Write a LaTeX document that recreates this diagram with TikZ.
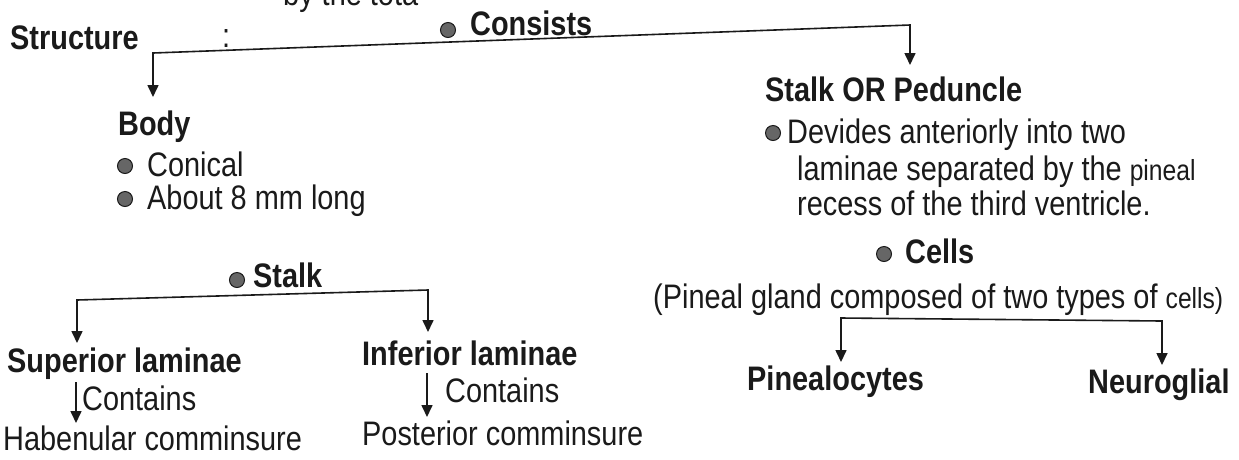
\documentclass[tikz,border=0pt]{standalone}
\usepackage{fontspec}
\setmainfont{Liberation Sans}[FakeStretch=0.85]
\usetikzlibrary{arrows.meta}
\definecolor{ink}{HTML}{1A1A1A}
\definecolor{bulletgray}{HTML}{666666}
\tikzset{
  txt/.style={anchor=base west, inner sep=0pt, text=ink, font=\fontsize{34}{40}\selectfont},
  btxt/.style={anchor=base west, inner sep=0pt, text=ink, font=\fontsize{34}{40}\selectfont\bfseries},
  bul/.style={circle, fill=bulletgray, draw=ink, line width=1pt, minimum size=15pt, inner sep=0pt},
  conn/.style={draw=ink, line width=1.6pt},
  arr/.style={conn, -{Triangle[width=11pt,length=12pt]}},
  arr2/.style={conn, {Triangle[width=11pt,length=12pt]}-{Triangle[width=11pt,length=12pt]}}
}
\newcommand{\smallfs}{\fontsize{29}{34}\selectfont}
\begin{document}
\begin{tikzpicture}[x=1pt,y=-1pt]
\useasboundingbox[fill=white] (0,0) rectangle (1239,459);
\clip (0,0) rectangle (1239,459);
% top partial line
\node[txt] (top) at (283,5) {by the tota};
% Structure
\node[btxt] (structure) at (10,49) {Structure};
\node[txt] (colon) at (222,47) {:};
\node[bul] (b1) at (448,30) {};
\node[btxt] (consists) at (470,35) {Consists};
\coordinate (cL) at (153,53);
\coordinate (cR) at (910,25);
\coordinate (tBody) at (153,97);
\coordinate (tStalkP) at (910,65);
\draw[arr2] (tBody) -- (cL) -- (cR) -- (tStalkP);
% Body
\node[btxt] (body) at (118,135) {Body};
\node[bul] (b2) at (125,166) {};
\node[txt] (conical) at (147,176) {Conical};
\node[bul] (b3) at (125,199) {};
\node[txt] (about) at (147,209) {About 8 mm long};
% Stalk OR Peduncle
\node[btxt] (stalkp) at (765,101) {Stalk OR Peduncle};
\node[bul] (b4) at (773,133) {};
\node[txt] (dev1) at (787,143) {Devides anteriorly into two};
\node[txt] (dev2) at (797,180) {laminae separated by the {\smallfs pineal}};
\node[txt] (dev3) at (797,215) {recess of the third ventricle.};
% Cells
\node[bul] (b5) at (884,254) {};
\node[btxt] (cells) at (905,263) {Cells};
\node[txt] (paren) at (653,308) {(Pineal gland composed of two types of {\smallfs cells)}};
\coordinate (pL) at (841,318);
\coordinate (pR) at (1162,321);
\coordinate (tPin) at (841,362);
\coordinate (tNeu) at (1162,365);
\draw[arr2] (tPin) -- (pL) -- (pR) -- (tNeu);
\node[btxt] (pin) at (747,390) {Pinealocytes};
\node[btxt] (neu) at (1088,393) {Neuroglial};
% Stalk
\node[bul] (b6) at (237,280) {};
\node[btxt] (stalk) at (253,287) {Stalk};
\coordinate (sL) at (77,300);
\coordinate (sR) at (428,290);
\coordinate (tSup) at (77,343);
\coordinate (tInf) at (428,332);
\draw[arr2] (tSup) -- (sL) -- (sR) -- (tInf);
% Superior
\node[btxt] (sup) at (7,372) {Superior laminae};
\coordinate (sa1) at (76,382);
\coordinate (sa2) at (76,423);
\draw[arr] (sa1) -- (sa2);
\node[txt] (cont1) at (82,410) {Contains};
\node[txt] (hab) at (3,450) {Habenular comminsure};
% Inferior
\node[btxt] (inf) at (362,365) {Inferior laminae};
\coordinate (ia1) at (427,373);
\coordinate (ia2) at (427,417);
\draw[arr] (ia1) -- (ia2);
\node[txt] (cont2) at (445,402) {Contains};
\node[txt] (post) at (362,445) {Posterior comminsure};
\end{tikzpicture}
\end{document}
